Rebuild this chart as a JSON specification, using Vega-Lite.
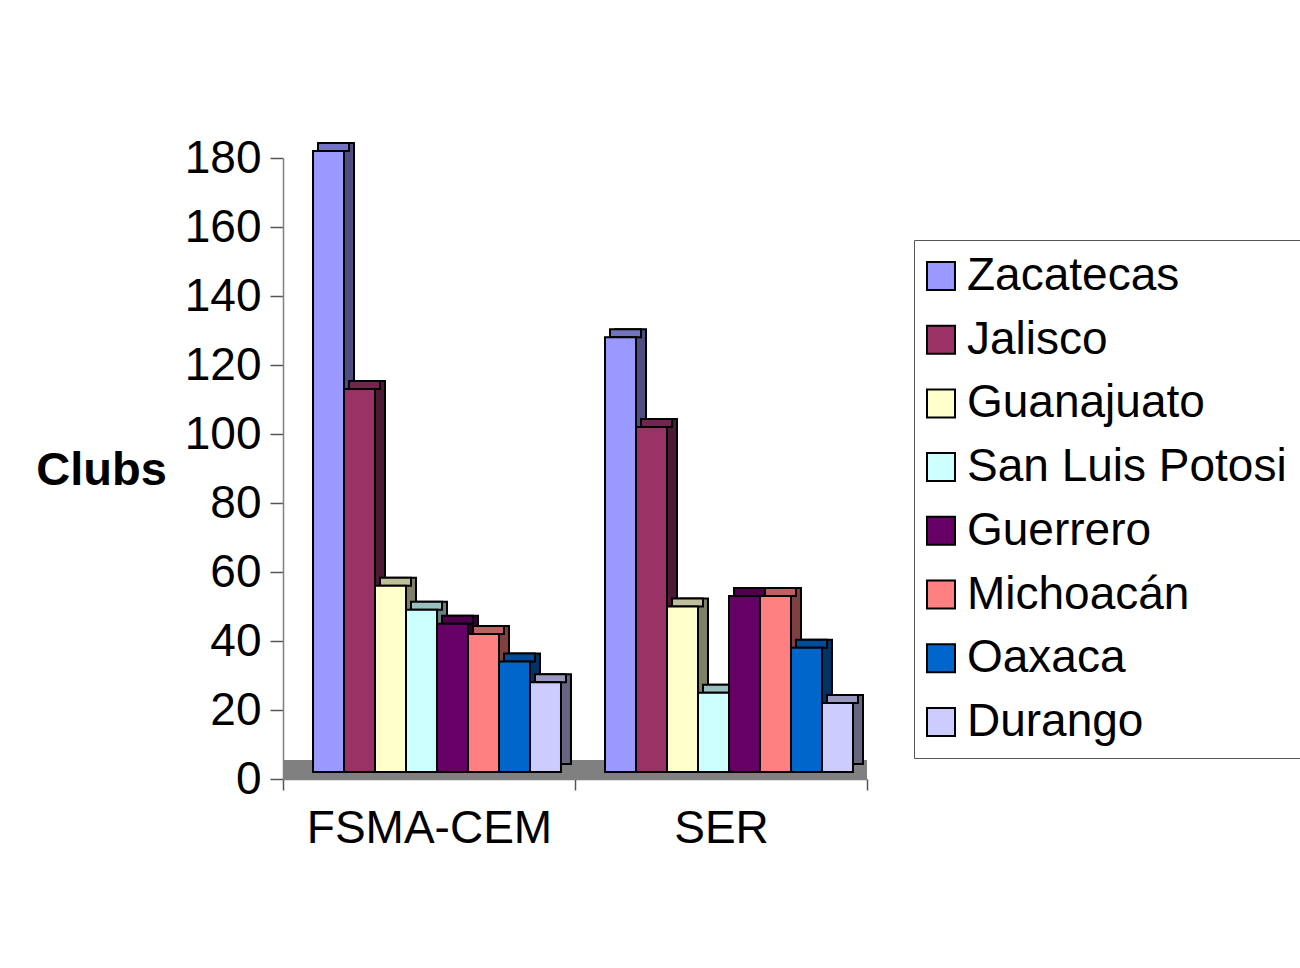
{
  "$schema": "https://vega.github.io/schema/vega-lite/v6.json",
  "autosize": {"type": "none"},
  "width": 584,
  "height": 621,
  "padding": {"left": 283, "top": 158, "right": 433, "bottom": 189},
  "background": "white",
  "config": {
    "font": "Liberation Sans",
    "view": {"stroke": null},
    "axis": {"grid": false, "labelFont": "Liberation Sans", "labelColor": "black", "labelFontSize": 46, "domainColor": "#808080", "tickColor": "#555555", "domainWidth": 1.5, "tickWidth": 1.5}
  },
  "data": {
    "values": [
      {"programa": "FSMA-CEM", "estado": "Zacatecas", "clubs": 180},
      {"programa": "FSMA-CEM", "estado": "Jalisco", "clubs": 111},
      {"programa": "FSMA-CEM", "estado": "Guanajuato", "clubs": 54},
      {"programa": "FSMA-CEM", "estado": "San Luis Potosi", "clubs": 47},
      {"programa": "FSMA-CEM", "estado": "Guerrero", "clubs": 43},
      {"programa": "FSMA-CEM", "estado": "Michoacán", "clubs": 40},
      {"programa": "FSMA-CEM", "estado": "Oaxaca", "clubs": 32},
      {"programa": "FSMA-CEM", "estado": "Durango", "clubs": 26},
      {"programa": "SER", "estado": "Zacatecas", "clubs": 126},
      {"programa": "SER", "estado": "Jalisco", "clubs": 100},
      {"programa": "SER", "estado": "Guanajuato", "clubs": 48},
      {"programa": "SER", "estado": "San Luis Potosi", "clubs": 23},
      {"programa": "SER", "estado": "Guerrero", "clubs": 51},
      {"programa": "SER", "estado": "Michoacán", "clubs": 51},
      {"programa": "SER", "estado": "Oaxaca", "clubs": 36},
      {"programa": "SER", "estado": "Durango", "clubs": 20}
    ]
  },
  "layer": [
    {
      "mark": {"type": "rule", "color": "#808080", "strokeWidth": 19, "yOffset": -9.5, "strokeCap": "butt"},
      "encoding": {"y": {"datum": 0, "type": "quantitative"}}
    },
    {
      "mark": {"type": "bar", "stroke": "black", "strokeWidth": 2, "yOffset": -15, "y2Offset": -15},
      "encoding": {
        "x": {"field": "programa", "type": "nominal"},
        "xOffset": {"field": "estado", "type": "nominal", "scale": {"domain": ["Zacatecas", "Jalisco", "Guanajuato", "San Luis Potosi", "Guerrero", "Michoacán", "Oaxaca", "Durango"], "paddingInner": 0, "paddingOuter": 0.71, "range": [18, 310]}},
        "y": {"field": "clubs", "type": "quantitative", "scale": {"domain": [0, 180], "nice": false}},
        "color": {
          "field": "estado", "type": "nominal", "legend": null,
          "scale": {"domain": ["Zacatecas", "Jalisco", "Guanajuato", "San Luis Potosi", "Guerrero", "Michoacán", "Oaxaca", "Durango"], "range": ["#4d4d80", "#4d1a33", "#808066", "#668080", "#330033", "#804040", "#003366", "#666680"]}
        }
      }
    },
    {
      "mark": {"type": "bar", "stroke": "black", "strokeWidth": 2, "yOffset": -15, "y2Offset": -7},
      "encoding": {
        "x": {"field": "programa", "type": "nominal"},
        "xOffset": {"field": "estado", "type": "nominal", "scale": {"domain": ["Zacatecas", "Jalisco", "Guanajuato", "San Luis Potosi", "Guerrero", "Michoacán", "Oaxaca", "Durango"], "paddingInner": 0, "paddingOuter": 0.71, "range": [13, 305]}},
        "y": {"field": "clubs", "type": "quantitative"},
        "y2": {"field": "clubs"},
        "color": {
          "field": "estado", "type": "nominal", "legend": null,
          "scale": {"domain": ["Zacatecas", "Jalisco", "Guanajuato", "San Luis Potosi", "Guerrero", "Michoacán", "Oaxaca", "Durango"], "range": ["#7373bf", "#73264d", "#bfbf99", "#99bfbf", "#4d004d", "#bf6060", "#004c99", "#9999bf"]}
        }
      }
    },
    {
      "mark": {"type": "bar", "stroke": "black", "strokeWidth": 2, "yOffset": -7, "y2Offset": -7},
      "encoding": {
        "x": {
          "field": "programa", "type": "nominal", "title": null,
          "scale": {"paddingInner": 0, "paddingOuter": 0},
          "axis": {"labelAngle": 0, "labelAlign": "center", "tickBand": "extent", "tickSize": 11, "labelPadding": 38, "labelLimit": 500}
        },
        "xOffset": {
          "field": "estado", "type": "nominal",
          "scale": {"domain": ["Zacatecas", "Jalisco", "Guanajuato", "San Luis Potosi", "Guerrero", "Michoacán", "Oaxaca", "Durango"], "paddingInner": 0, "paddingOuter": 0.71, "range": [8, 300]}
        },
        "y": {
          "field": "clubs", "type": "quantitative",
          "axis": {"values": [0, 20, 40, 60, 80, 100, 120, 140, 160, 180], "tickSize": 13, "labelPadding": 9, "title": "Clubs", "titleAngle": 0, "titleFont": "Liberation Sans", "titleFontSize": 47, "titleFontWeight": "bold", "titleX": -182, "titleY": 312, "titleAlign": "center", "titleBaseline": "middle", "titleColor": "black"}
        },
        "color": {
          "field": "estado", "type": "nominal",
          "scale": {"domain": ["Zacatecas", "Jalisco", "Guanajuato", "San Luis Potosi", "Guerrero", "Michoacán", "Oaxaca", "Durango"], "range": ["#9999ff", "#993366", "#ffffcc", "#ccffff", "#660066", "#ff8080", "#0066cc", "#ccccff"]},
          "legend": {"title": null, "orient": "none", "legendX": 631, "legendY": 82, "strokeColor": "#555555", "padding": 13, "symbolType": "square", "symbolSize": 784, "symbolOffset": -9, "symbolStrokeColor": "black", "symbolStrokeWidth": 2, "symbolOpacity": 1, "labelFont": "Liberation Sans", "labelFontSize": 46, "labelColor": "black", "labelOffset": 3, "rowPadding": 17.7, "labelLimit": 500}
        }
      }
    }
  ],
  "resolve": {"scale": {"color": "independent", "xOffset": "independent"}, "legend": {"color": "independent"}}
}
